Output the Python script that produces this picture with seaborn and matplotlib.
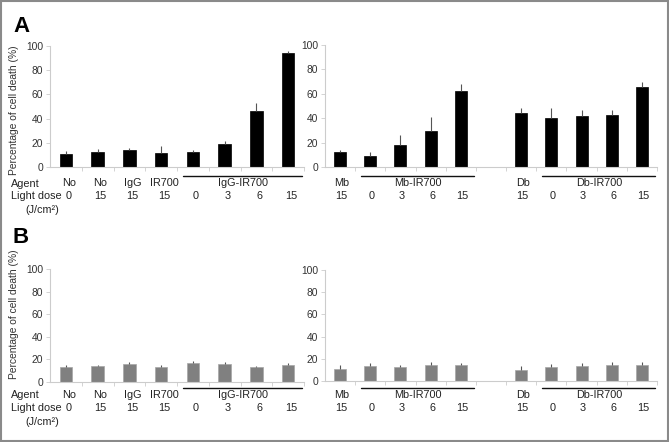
import numpy as np
import pandas as pd
import matplotlib
matplotlib.use("Agg")
import matplotlib.pyplot as plt
from matplotlib.patches import Rectangle
from matplotlib.transforms import offset_copy
import seaborn as sns

# Panel A / B share the same layout of agents and light doses
left_agent = ["No", "No", "IgG", "IR700", "IgG-IR700", "IgG-IR700", "IgG-IR700", "IgG-IR700"]
left_dose = ["0", "15", "15", "15", "0", "3", "6", "15"]
right_agent = ["Mb", "Mb-IR700", "Mb-IR700", "Mb-IR700", "Mb-IR700", "",
               "Db", "Db-IR700", "Db-IR700", "Db-IR700", "Db-IR700"]
right_dose = ["15", "0", "3", "6", "15", "", "15", "0", "3", "6", "15"]
grouped = ["IgG-IR700", "Mb-IR700", "Db-IR700"]

# panel A (cell death %, mean and upper error)
a_left_mean = [11.0, 12.4, 14.4, 11.9, 12.4, 19.3, 46.1, 94.5]
a_left_err = [2.0, 2.2, 1.6, 5.2, 2.0, 2.0, 7.2, 1.1]
a_right_mean = [12.2, 9.2, 18.1, 29.5, 62.7, None, 44.3, 40.3, 41.4, 42.4, 65.7]
a_right_err = [1.6, 3.5, 8.1, 11.5, 5.4, None, 4.1, 7.8, 5.1, 4.1, 3.8]

# panel B
b_left_mean = [13.0, 14.0, 16.0, 13.0, 17.0, 16.0, 13.0, 15.0]
b_left_err = [2.0, 1.0, 2.0, 2.0, 2.0, 1.5, 1.0, 2.0]
b_right_mean = [10.4, 13.4, 12.8, 14.3, 14.0, None, 9.8, 12.5, 13.4, 14.0, 14.0]
b_right_err = [3.9, 2.7, 1.8, 2.7, 2.0, None, 3.6, 2.4, 2.6, 2.7, 2.7]

sns.set_style("ticks")
plt.rcParams['font.family'] = ['Liberation Sans', 'DejaVu Sans']

W, H = 669, 442
fig = plt.figure(figsize=(W / 100, H / 100), dpi=100)
TXT = '#222222'
AXC = '#cccccc'
FS = 7.8


def px_axes(x0, y_top, x1, y_bot):
    return fig.add_axes([x0 / W, 1 - y_bot / H, (x1 - x0) / W, (y_bot - y_top) / H])


def draw_panel(ax, agents, doses, means, errs, color, edge, offs, ylab_y=None):
    slots = [f"{a}|{d}|{i}" for i, (a, d) in enumerate(zip(agents, doses))]
    df = pd.DataFrame({"slot": slots, "mean": means, "err": errs})
    df = df[df["mean"].notna()]
    sns.barplot(data=df, x="slot", y="mean", order=slots, color=color, width=0.4,
                edgecolor=edge, linewidth=0.5, errorbar=None, ax=ax, saturation=1)
    pos = [slots.index(s) for s in df["slot"]]
    ax.errorbar(pos, df["mean"], yerr=[np.zeros(len(df)), df["err"].values],
                fmt='none', ecolor='#555555', elinewidth=0.8, capsize=0)
    n = len(slots)
    ax.set_xlim(-0.5, n - 0.5)
    ax.set_ylim(0, 100)
    ax.set_yticks(range(0, 101, 20))
    ax.set_xticks([i + 0.5 for i in range(n)])
    ax.set_xticklabels([])
    ax.set_xlabel("")
    ax.tick_params(axis='x', length=3, width=0.6, color=AXC)
    ax.tick_params(axis='y', length=3, width=0.6, color=AXC, labelsize=7.4,
                   labelcolor='#333333', pad=2)
    sns.despine(ax=ax)
    for s in ("left", "bottom"):
        ax.spines[s].set_color(AXC)
        ax.spines[s].set_linewidth(0.8)
    if ylab_y is not None:
        ax.set_ylabel("Percentage of cell death (%)", fontsize=7.4, color='#333333')
        ax.yaxis.set_label_coords(-0.122, ylab_y)
    else:
        ax.set_ylabel("")

    tr = ax.get_xaxis_transform()
    agent_off, dose_off, line_off, dx = offs

    def lab(x, dy, s, shift=0):
        ax.annotate(s, xy=(x, 0), xycoords=tr, xytext=(shift * 0.72, -dy * 0.72),
                    textcoords='offset points', ha='center', va='center',
                    fontsize=FS, color=TXT, annotation_clip=False)

    for i, d in enumerate(doses):
        if d:
            lab(i, dose_off, d, dx)
    line_tr = offset_copy(tr, fig=fig, x=0, y=-line_off * 0.72, units='points')
    for i, a in enumerate(agents):
        if a and a not in grouped:
            lab(i, agent_off, a, dx)
    for g in grouped:
        idx = [i for i, a in enumerate(agents) if a == g]
        if not idx:
            continue
        x0, x1 = idx[0] - 0.3, idx[-1] + 0.45
        ax.add_line(plt.Line2D([x0, x1], [0, 0], transform=line_tr,
                               color='#111111', lw=1.0, clip_on=False))
        lab((x0 + x1) / 2, agent_off, g)


axA1 = px_axes(50, 46, 304, 167)
axA2 = px_axes(325, 45, 657, 167)
axB1 = px_axes(50, 269, 304, 382)
axB2 = px_axes(325, 270, 657, 381)

draw_panel(axA1, left_agent, left_dose, a_left_mean, a_left_err, 'black', 'black', (16.5, 29, 9, 3), 0.47)
draw_panel(axA2, right_agent, right_dose, a_right_mean, a_right_err, 'black', 'black', (16.5, 29, 9, 1.5))
draw_panel(axB1, left_agent, left_dose, b_left_mean, b_left_err, '#808080', '#a6a6a6', (13.5, 26, 5.5, 3), 0.6)
draw_panel(axB2, right_agent, right_dose, b_right_mean, b_right_err, '#808080', '#a6a6a6', (14.5, 27, 6.5, 1.5))

# row headers and panel letters
for y_ag, y_ld, y_u in ((183.5, 196, 210), (395.5, 408, 422)):
    fig.text(11 / W, 1 - y_ag / H, "Agent", fontsize=FS, color=TXT, va='center', ha='left')
    fig.text(11 / W, 1 - y_ld / H, "Light dose", fontsize=FS, color=TXT, va='center', ha='left')
    fig.text(42 / W, 1 - y_u / H, "(J/cm²)", fontsize=FS, color=TXT, va='center', ha='center')
fig.text(13 / W, 1 - 32 / H, "A", fontsize=16, fontweight='bold', color='black', va='baseline')
fig.text(12 / W, 1 - 243 / H, "B", fontsize=16, fontweight='bold', color='black', va='baseline')

fig.patches.append(Rectangle((0.001, 0.002), 0.997, 0.996, transform=fig.transFigure,
                             fill=False, edgecolor='#8a8a8a', lw=1.5))

fig.savefig("out.png", dpi=100)
